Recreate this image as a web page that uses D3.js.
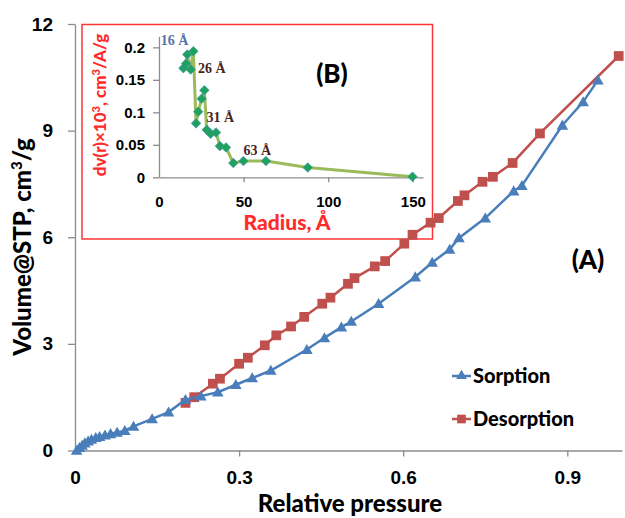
<!DOCTYPE html>
<html>
<head>
<meta charset="utf-8">
<script src="https://cdn.jsdelivr.net/npm/d3@7"></script>
<style>
  body { margin: 0; background: #fff; }
  svg { display: block; font-family: Lato, "Open Sans", sans-serif; }
  .axis path, .axis line { stroke: #8c8c8c; stroke-width: 1.3; }
  .axis text { fill: #000; font-weight: 900; }
</style>
</head>
<body>
<div id="chart"></div>
<script>
// isotherm data (relative pressure, volume cm3/g)
const sorpP = [0.003, 0.008, 0.013, 0.018, 0.024, 0.030, 0.038, 0.045, 0.055, 0.065, 0.077, 0.091,
  0.107, 0.141, 0.171, 0.202, 0.230, 0.261, 0.294, 0.324, 0.358, 0.424, 0.456, 0.487, 0.505, 0.555,
  0.622, 0.653, 0.685, 0.702, 0.750, 0.802, 0.817, 0.891, 0.929, 0.956];
const sorpV = [0.00, 0.08, 0.14, 0.21, 0.26, 0.31, 0.36, 0.39, 0.43, 0.47, 0.51, 0.56,
  0.68, 0.89, 1.08, 1.43, 1.53, 1.64, 1.85, 2.04, 2.25, 2.84, 3.17, 3.47, 3.63, 4.13,
  4.88, 5.29, 5.66, 5.98, 6.54, 7.30, 7.45, 9.15, 9.81, 10.42];

const desP = [0.202, 0.218, 0.252, 0.265, 0.300, 0.316, 0.347, 0.368, 0.395, 0.419, 0.452, 0.467,
  0.499, 0.511, 0.548, 0.567, 0.602, 0.617, 0.650, 0.665, 0.700, 0.712, 0.745, 0.764, 0.800, 0.850, 0.994];
const desV = [1.34, 1.50, 1.88, 2.02, 2.44, 2.61, 2.96, 3.24, 3.49, 3.76, 4.13, 4.30,
  4.69, 4.85, 5.18, 5.33, 5.82, 6.07, 6.41, 6.54, 7.02, 7.18, 7.56, 7.70, 8.09, 8.92, 11.10];

// pore size distribution (inset B)
const radius = [14.4, 16.0, 16.7, 18.7, 20.3, 21.9, 23.2, 25.2, 26.8, 28.2, 30.5, 33.7, 36.0, 39.6,
  43.9, 49.9, 63.2, 87.9, 149.8];
const dv = [0.168, 0.175, 0.189, 0.166, 0.194, 0.083, 0.101, 0.121, 0.134, 0.073, 0.067, 0.069, 0.048, 0.046,
  0.022, 0.025, 0.025, 0.015, 0.001];

const mainXTicks = [0, 0.3, 0.6, 0.9];
const mainYTicks = [0, 3, 6, 9, 12];
const insetXTicks = [0, 50, 100, 150];
const insetYTicks = [0, 0.05, 0.1, 0.15, 0.2];

const peakLabels = [
  { text: "16 Å", r: 16, v: 0.194, color: "#5672a8" },
  { text: "26 Å", r: 26, v: 0.163, color: "#4a2222" },
  { text: "31 Å", r: 31, v: 0.085, color: "#4a2222" },
  { text: "63 Å", r: 63, v: 0.035, color: "#4a2222" }
];

const width = 625, height = 518;
const blue = "#4a7ebb", red = "#c0504d", olive = "#9bbb59";

const svg = d3.select("#chart").append("svg")
  .attr("width", width)
  .attr("height", height);

// main scales
const x = d3.scaleLinear().domain([0, 1]).range([75, 622]);
const y = d3.scaleLinear().domain([0, 12]).range([450.5, 24]);

// main axes
const xAxisG = svg.append("g")
  .attr("class", "axis")
  .attr("transform", `translate(0, ${y(0)})`)
  .call(d3.axisBottom(x).tickValues(mainXTicks).tickFormat(d3.format("")).tickSize(6).tickSizeOuter(0).tickPadding(14));
xAxisG.selectAll("text").style("font-size", "19px");
xAxisG.selectAll(".tick").filter(d => d === 0).select("line").remove();

const yAxisG = svg.append("g")
  .attr("class", "axis")
  .attr("transform", `translate(${x(0)}, 0)`)
  .call(d3.axisLeft(y).tickValues(mainYTicks).tickSize(7).tickSizeOuter(0).tickPadding(15));
yAxisG.selectAll("text").style("font-size", "19px");

svg.append("text")
  .text("Relative pressure")
  .attr("x", 350).attr("y", 512)
  .attr("text-anchor", "middle")
  .style("font-size", "24px").style("font-weight", 900);

const yTitle = svg.append("text")
  .attr("transform", "translate(31, 247) rotate(-90)")
  .attr("text-anchor", "middle")
  .style("font-size", "24px").style("font-weight", 900);
yTitle.append("tspan").text("Volume@STP, cm");
yTitle.append("tspan").text("3").attr("dy", -9).style("font-size", "15px");
yTitle.append("tspan").text("/g").attr("dy", 9);

svg.append("text")
  .text("(A)")
  .attr("x", 588).attr("y", 269)
  .attr("text-anchor", "middle")
  .style("font-size", "26px").style("font-weight", 900);

// inset box
svg.append("rect")
  .attr("x", 82).attr("y", 24.5)
  .attr("width", 350.5).attr("height", 214.5)
  .attr("fill", "#fff")
  .attr("stroke", "#ff3434")
  .attr("stroke-width", 1.5);

// inset scales
const xi = d3.scaleLinear().domain([0, 156]).range([159, 423]);
const yi = d3.scaleLinear().domain([0, 0.217]).range([177.3, 36.3]);

const xiAxis = svg.append("g")
  .attr("class", "axis")
  .attr("transform", `translate(0, ${yi(0)})`)
  .call(d3.axisBottom(xi).tickValues(insetXTicks).tickSize(5).tickSizeOuter(0).tickPadding(14));
xiAxis.selectAll("text").style("font-size", "15px");
xiAxis.selectAll(".tick").filter(d => d === 0).select("line").remove();

const yiAxis = svg.append("g")
  .attr("class", "axis")
  .attr("transform", `translate(${xi(0)}, 0)`)
  .call(d3.axisLeft(yi).tickValues(insetYTicks).tickFormat(d => d3.format("")(+d.toFixed(2))).tickSize(6).tickSizeOuter(0).tickPadding(8));
yiAxis.selectAll("text").style("font-size", "15px");

svg.append("text")
  .text("Radius, Å")
  .attr("x", 287).attr("y", 230)
  .attr("text-anchor", "middle")
  .attr("fill", "#ff2a2a")
  .style("font-size", "21px").style("font-weight", 900);

const yiTitle = svg.append("text")
  .attr("transform", "translate(106, 105) rotate(-90)")
  .attr("text-anchor", "middle")
  .attr("fill", "#ff2a2a")
  .style("font-size", "17px").style("font-weight", 900);
yiTitle.append("tspan").text("dv(r)×10");
yiTitle.append("tspan").text("3").attr("dy", -6).style("font-size", "11px");
yiTitle.append("tspan").text(", cm").attr("dy", 6);
yiTitle.append("tspan").text("3").attr("dy", -6).style("font-size", "11px");
yiTitle.append("tspan").text("/A/g").attr("dy", 6);

svg.append("text")
  .text("(B)")
  .attr("x", 332).attr("y", 83)
  .attr("text-anchor", "middle")
  .style("font-size", "26px").style("font-weight", 900);

// inset line + diamonds
const psd = radius.map((r, i) => ({ r, v: dv[i] }));
svg.append("path")
  .datum(psd)
  .attr("fill", "none")
  .attr("stroke", olive)
  .attr("stroke-width", 3)
  .attr("stroke-linejoin", "round")
  .attr("d", d3.line().x(d => xi(d.r)).y(d => yi(d.v)));

svg.append("g").selectAll("path")
  .data(psd)
  .join("path")
    .attr("transform", d => `translate(${xi(d.r)}, ${yi(d.v)})`)
    .attr("d", d3.symbol(d3.symbolDiamond2, 58))
    .attr("fill", "#1fa25c")
    .attr("stroke", "#3f8fb5")
    .attr("stroke-width", 0.7);

svg.append("g").selectAll("text")
  .data(peakLabels)
  .join("text")
    .text(d => d.text)
    .attr("x", d => d.text === "16 Å" ? xi(1) : xi(d.r) + (d.text === "63 Å" ? -22 : -5))
    .attr("y", d => d.text === "16 Å" ? 45 : yi(d.v) + (d.text === "26 Å" ? 2 : 0))
    .attr("fill", d => d.color)
    .style("font-family", "'Liberation Serif', serif")
    .style("font-size", "14px").style("font-weight", "bold");

// main series
const sorp = sorpP.map((p, i) => ({ p, v: sorpV[i] }));
const des = desP.map((p, i) => ({ p, v: desV[i] }));
const line = d3.line().x(d => x(d.p)).y(d => y(d.v));

svg.append("path").datum(des)
  .attr("fill", "none").attr("stroke", red).attr("stroke-width", 2.5)
  .attr("d", line);
svg.append("g").selectAll("path")
  .data(des)
  .join("path")
    .attr("transform", d => `translate(${x(d.p)}, ${y(d.v)})`)
    .attr("d", d3.symbol(d3.symbolSquare, 95))
    .attr("fill", red);

svg.append("path").datum(sorp)
  .attr("fill", "none").attr("stroke", blue).attr("stroke-width", 2.5)
  .attr("d", line);
svg.append("g").selectAll("path")
  .data(sorp)
  .join("path")
    .attr("transform", d => `translate(${x(d.p)}, ${y(d.v) + 1})`)
    .attr("d", d3.symbol(d3.symbolTriangle, 58))
    .attr("fill", blue);

// legend
const legendItems = [
  { name: "Sorption", color: blue, sym: d3.symbolTriangle, size: 50, y: 376 },
  { name: "Desorption", color: red, sym: d3.symbolSquare, size: 75, y: 419 }
];
const legend = svg.append("g").attr("class", "legend");
legendItems.forEach(item => {
  const g = legend.append("g").attr("transform", `translate(452, ${item.y})`);
  g.append("line").attr("x1", 0).attr("x2", 19)
    .attr("stroke", item.color).attr("stroke-width", 2.5);
  g.append("path").attr("transform", "translate(9.5, 0)")
    .attr("d", d3.symbol(item.sym, item.size)).attr("fill", item.color);
  g.append("text").text(item.name)
    .attr("x", 21).attr("y", 7)
    .style("font-size", "20px").style("font-weight", 900);
});
</script>
</body>
</html>
